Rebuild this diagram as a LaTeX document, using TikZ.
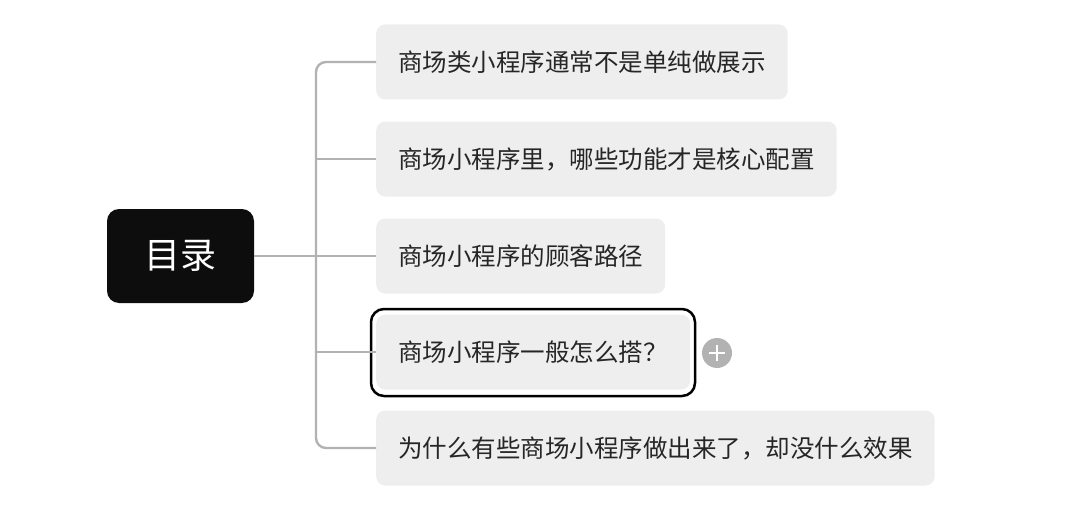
\documentclass[tikz,border=0pt]{standalone}
\usepackage{fontspec}
\setmainfont{Noto Sans CJK SC}
\begin{document}
\begin{tikzpicture}[x=1pt,y=-1pt,
  child/.style={fill=gray!13,rounded corners=9pt,minimum height=75pt,anchor=west,inner xsep=22pt,font=\fontsize{24.5}{28}\selectfont,text=black!85},
  conn/.style={draw=black!30,line width=2.4pt,rounded corners=10pt}]
\useasboundingbox (0,0) rectangle (1080,511);
\node[fill=black!95,rounded corners=12pt,minimum width=147pt,minimum height=94pt,text=white,font=\fontsize{36}{42}\selectfont] (root) at (180.5,256) {目录};
\node[child] (c1) at (376,62) {商场类小程序通常不是单纯做展示};
\node[child] (c2) at (376,159) {商场小程序里，哪些功能才是核心配置};
\node[child] (c3) at (376,256) {商场小程序的顾客路径};
\node[child,minimum width=314pt,text width=270pt] (c4) at (376,352) {商场小程序一般怎么搭？};
\node[child] (c5) at (376,448) {为什么有些商场小程序做出来了，却没什么效果};
\draw[black,line width=2.5pt,rounded corners=13pt] (371,309) rectangle (695,396);
\node[circle,fill=black!30,minimum size=30pt,inner sep=0pt] (plus) at (717,353) {};
\draw[white,line width=2.5pt] (709,353) -- (725,353) (717,345) -- (717,361);
\coordinate (j) at (316,256);
\draw[conn] (root.east) -- (j);
\draw[conn] (c1.west) -- (316,62) -- (316,448) -- (c5.west);
\draw[conn] (c2.west) -- (316,159);
\draw[conn] (c3.west) -- (316,256);
\draw[conn] (c4.west) -- (316,352);
\end{tikzpicture}
\end{document}
